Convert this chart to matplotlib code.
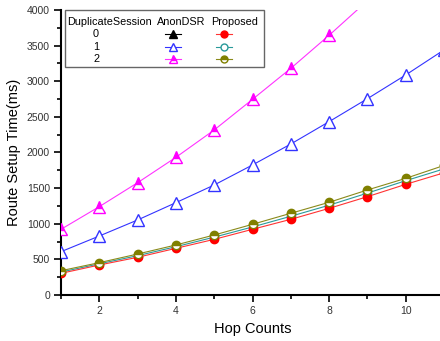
import matplotlib
matplotlib.use('Agg')
import matplotlib.pyplot as plt
from matplotlib.lines import Line2D
from matplotlib.patches import Rectangle
from matplotlib.ticker import MultipleLocator

plt.rcParams['font.family'] = ['Liberation Sans', 'DejaVu Sans']

# hop counts
hops = [1, 2, 3, 4, 5, 6, 7, 8, 9, 10, 11]

# AnonDSR, duplicate sessions 1 and 2 (session 0 not visible in the chart)
anon_1 = [608, 828, 1053, 1296, 1544, 1825, 2119, 2433, 2755, 3088, 3440]
anon_2 = [922, 1240, 1576, 1932, 2316, 2746, 3181, 3645, 4130, 4620, 5120]

# Proposed, duplicate sessions 0, 1, 2
prop_0 = [304, 421, 529, 655, 781, 922, 1062, 1216, 1380, 1553, 1715]
prop_1 = [322, 438, 552, 678, 812, 955, 1105, 1260, 1430, 1604, 1770]
prop_2 = [341, 454, 575, 702, 842, 992, 1147, 1301, 1474, 1637, 1818]

sessions = ['0', '1', '2']

fig = plt.figure(figsize=(4.4, 3.41), dpi=100)
ax = fig.add_axes([61 / 440, 46 / 341, 383 / 440, 285 / 341])

lw = 0.8
ax.plot(hops, anon_2, color='#ff33ff', lw=lw, marker='^', ms=8,
        mec='#ff00ff', mfc='#ff00ff', fillstyle='top', mfcalt='white', mew=1, zorder=3)
ax.plot(hops, anon_1, color='#3333ff', lw=lw, marker='^', ms=8,
        mec='#3333ff', mfc='white', mew=1, zorder=3)
ax.plot(hops, prop_1, color='#2a9a9a', lw=lw, marker='o', ms=6,
        mec='#2a9a9a', mfc='white', mew=1, zorder=3)
ax.plot(hops, prop_0, color='#ff3333', lw=lw, marker='o', ms=6,
        mec='#ff0000', mfc='#ff0000', mew=1, zorder=3)
ax.plot(hops, prop_2, color='#8a8a1a', lw=lw, marker='o', ms=6,
        mec='#808000', mfc='#808000', fillstyle='top', mfcalt='white', mew=1, zorder=3)

ax.set_xlim(1, 11)
ax.set_ylim(0, 4000)
ax.xaxis.set_major_locator(MultipleLocator(2))
ax.xaxis.set_minor_locator(MultipleLocator(1))
ax.yaxis.set_major_locator(MultipleLocator(500))
ax.yaxis.set_minor_locator(MultipleLocator(250))
ax.set_xticks([2, 4, 6, 8, 10])
ax.tick_params(which='major', direction='out', length=5, width=1.2,
               labelsize=7.5, labelcolor='#333333', pad=3)
ax.tick_params(which='minor', direction='out', length=3, width=1.2)
ax.spines['top'].set_visible(False)
ax.spines['right'].set_visible(False)
ax.spines['left'].set_linewidth(1.5)
ax.spines['bottom'].set_linewidth(1.5)

ax.set_xlabel('Hop Counts', fontsize=10.5, labelpad=4)
ax.set_ylabel('Route Setup Time(ms)', fontsize=10.5, labelpad=4)

# table-style legend, in axes pixels
W, H = 383.0, 285.0


def ap(px, py):
    # convert figure pixel position to axes fraction
    return ((px - 61) / W, (295 - py) / H)


x0, y0 = ap(65, 67)
x1, y1 = ap(264, 10)
ax.add_patch(Rectangle((x0, y0), x1 - x0, y1 - y0, transform=ax.transAxes,
                       fill=True, facecolor='white', edgecolor='#666666',
                       lw=1, zorder=5, clip_on=False))

tkw = dict(transform=ax.transAxes, fontsize=7.8, va='center', zorder=6)
ax.text(*ap(67, 22), 'DuplicateSession', ha='left', **tkw)
ax.text(*ap(181, 22), 'AnonDSR', ha='center', **tkw)
ax.text(*ap(235, 22), 'Proposed', ha='center', **tkw)

anon_styles = [
    dict(color='black', marker='^', mfc='black', mec='black'),
    dict(color='#3333ff', marker='^', mfc='white', mec='#3333ff'),
    dict(color='#ff33ff', marker='^', mfc='#ff00ff', mec='#ff00ff',
         fillstyle='top', mfcalt='white'),
]
prop_styles = [
    dict(color='#ff3333', marker='o', mfc='#ff0000', mec='#ff0000'),
    dict(color='#2a9a9a', marker='o', mfc='white', mec='#2a9a9a'),
    dict(color='#8a8a1a', marker='o', mfc='#808000', mec='#808000',
         fillstyle='top', mfcalt='white'),
]
row_y = [34, 46.5, 59]
for s, ry, ast, pst in zip(sessions, row_y, anon_styles, prop_styles):
    ax.text(*ap(96, ry), s, ha='center', **tkw)
    (ax1_, yy), (ax2_, _) = ap(165, ry), ap(181, ry)
    ax.add_line(Line2D([ax1_, ax2_], [yy, yy], transform=ax.transAxes, lw=lw,
                       zorder=6, clip_on=False, color=ast['color']))
    ax.add_line(Line2D([(ax1_ + ax2_) / 2], [yy], transform=ax.transAxes, ls='none',
                       ms=6, mew=1, zorder=7, clip_on=False,
                       **{k: v for k, v in ast.items() if k != 'color'}))
    (px1, _), (px2, _) = ap(216, ry), ap(232, ry)
    ax.add_line(Line2D([px1, px2], [yy, yy], transform=ax.transAxes, lw=lw,
                       zorder=6, clip_on=False, color=pst['color']))
    ax.add_line(Line2D([(px1 + px2) / 2], [yy], transform=ax.transAxes, ls='none',
                       ms=5, mew=1, zorder=7, clip_on=False,
                       **{k: v for k, v in pst.items() if k != 'color'}))

fig.savefig('out.png', dpi=100)
